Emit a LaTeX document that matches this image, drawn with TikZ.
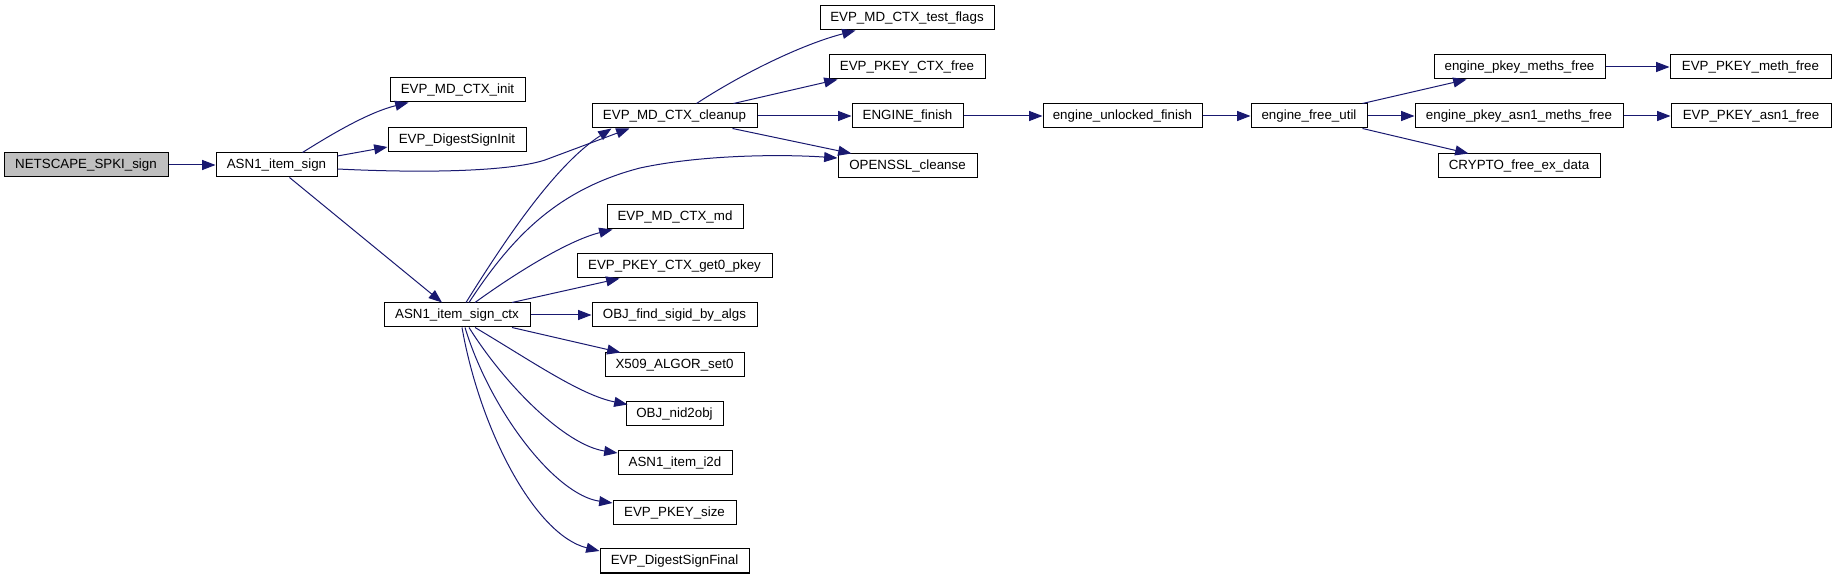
\documentclass[tikz,border=0pt]{standalone}
\usepackage{fontspec}
\setmainfont{Liberation Sans}
\usetikzlibrary{arrows.meta,calc}
\definecolor{edgecol}{HTML}{191970}
\begin{document}
\begin{tikzpicture}[x=0.75pt,y=-0.75pt,
  fn/.style={draw=black,line width=0.75pt,fill=white,minimum height=18pt,inner sep=0pt,font=\fontsize{10}{12}\selectfont},
  root/.style={fn,fill=black!25},
  call/.style={draw=edgecol,line width=0.75pt,-{Triangle[length=10pt,width=7.5pt]}}]
\useasboundingbox (0,0) rectangle (1835,580);
% nodes
\node[root,minimum width=123pt] (nsp) at (86,165) {NETSCAPE\_SPKI\_sign};
\node[fn,minimum width=90.75pt] (sign) at (276.5,165) {ASN1\_item\_sign};
\node[fn,minimum width=101.25pt] (init) at (457.5,90) {EVP\_MD\_CTX\_init};
\node[fn,minimum width=103.5pt] (dsi) at (457,140) {EVP\_DigestSignInit};
\node[fn,minimum width=123.75pt] (cleanup) at (674.5,116) {EVP\_MD\_CTX\_cleanup};
\node[fn,minimum width=109.5pt] (ctx) at (457,315) {ASN1\_item\_sign\_ctx};
\node[fn,minimum width=130.5pt] (tflags) at (907,18) {EVP\_MD\_CTX\_test\_flags};
\node[fn,minimum width=117pt] (pcfree) at (907,67) {EVP\_PKEY\_CTX\_free};
\node[fn,minimum width=83.25pt] (efin) at (907.5,116) {ENGINE\_finish};
\node[fn,minimum width=104.25pt] (cleanse) at (907.5,166) {OPENSSL\_cleanse};
\node[fn,minimum width=102pt] (mdmd) at (675,217) {EVP\_MD\_CTX\_md};
\node[fn,minimum width=146.25pt] (get0) at (674.5,266) {EVP\_PKEY\_CTX\_get0\_pkey};
\node[fn,minimum width=123.75pt] (sigid) at (674.5,315) {OBJ\_find\_sigid\_by\_algs};
\node[fn,minimum width=104.25pt] (x509) at (674.5,365) {X509\_ALGOR\_set0};
\node[fn,minimum width=72.75pt] (nid) at (674.5,414) {OBJ\_nid2obj};
\node[fn,minimum width=85.5pt] (i2d) at (675,463) {ASN1\_item\_i2d};
\node[fn,minimum width=92.25pt] (size) at (674.5,513) {EVP\_PKEY\_size};
\node[fn,minimum width=111.75pt] (final) at (674.5,561) {EVP\_DigestSignFinal};
\node[fn,minimum width=119.25pt] (euf) at (1122.5,116) {engine\_unlocked\_finish};
\node[fn,minimum width=87pt] (efu) at (1309,116) {engine\_free\_util};
\node[fn,minimum width=128.25pt] (epmf) at (1519.5,67) {engine\_pkey\_meths\_free};
\node[fn,minimum width=120.75pt] (pmf) at (1750.5,67) {EVP\_PKEY\_meth\_free};
\node[fn,minimum width=156pt] (epamf) at (1519,116) {engine\_pkey\_asn1\_meths\_free};
\node[fn,minimum width=120pt] (pa1f) at (1751,116) {EVP\_PKEY\_asn1\_free};
\node[fn,minimum width=121.5pt] (cfed) at (1519,166) {CRYPTO\_free\_ex\_data};
% edges
\draw[call] (nsp.east) -- (sign.west);
\draw[call] ($(sign.north)+(26,0)$) .. controls (335,132) and (370,112) .. ($(init.south west)+(19,0)$);
\draw[call] ($(sign.east)+(0,-9)$) -- ($(dsi.west)+(0,7)$);
\draw[call] ($(sign.east)+(0,4)$) .. controls (440,174) and (515,170) .. (545,160) -- ($(cleanup.south)+(-45,0)$);
\draw[call] ($(sign.south)+(13,0)$) -- ($(ctx.north)+(-15,0)$);
\draw[call] ($(ctx.north)+(9,0)$) .. controls (505,240) and (555,165) .. ($(cleanup.south)+(-63,0)$);
\draw[call] ($(ctx.north)+(12,0)$) .. controls (510,240) and (555,190) .. (640,168) .. controls (700,155) and (780,154) .. ($(cleanse.west)+(0,-8)$);
\draw[call] ($(ctx.north)+(18,0)$) .. controls (520,270) and (570,240) .. ($(mdmd.south west)+(6,0)$);
\draw[call] ($(ctx.north)+(55,0)$) -- ($(get0.south west)+(43,0)$);
\draw[call] (ctx.east) -- (sigid.west);
\draw[call] ($(ctx.south)+(55,0)$) -- ($(x509.north west)+(16,0)$);
\draw[call] ($(ctx.south)+(18,0)$) .. controls (530,360) and (580,395) .. ($(nid.north west)+(2,3)$);
\draw[call] ($(ctx.south)+(12,0)$) .. controls (505,385) and (565,445) .. ($(i2d.west)+(0,-10)$);
\draw[call] ($(ctx.south)+(8,0)$) .. controls (490,410) and (555,495) .. ($(size.west)+(0,-10)$);
\draw[call] ($(ctx.south)+(5,0)$) .. controls (480,430) and (535,535) .. ($(final.west)+(0,-10)$);
\draw[call] ($(cleanup.north)+(22,0)$) .. controls (740,75) and (800,45) .. ($(tflags.south west)+(36,0)$);
\draw[call] ($(cleanup.north)+(59,0)$) -- ($(pcfree.south west)+(9,0)$);
\draw[call] (cleanup.east) -- (efin.west);
\draw[call] ($(cleanup.south)+(58,0)$) -- ($(cleanse.north west)+(14,0)$);
\draw[call] (efin.east) -- (euf.west);
\draw[call] (euf.east) -- (efu.west);
\draw[call] ($(efu.north east)+(-5,0)$) -- ($(epmf.south west)+(33,0)$);
\draw[call] (efu.east) -- (epamf.west);
\draw[call] ($(efu.south east)+(-5,0)$) -- ($(cfed.north west)+(31,0)$);
\draw[call] (epmf.east) -- (pmf.west);
\draw[call] (epamf.east) -- (pa1f.west);
\end{tikzpicture}
\end{document}
